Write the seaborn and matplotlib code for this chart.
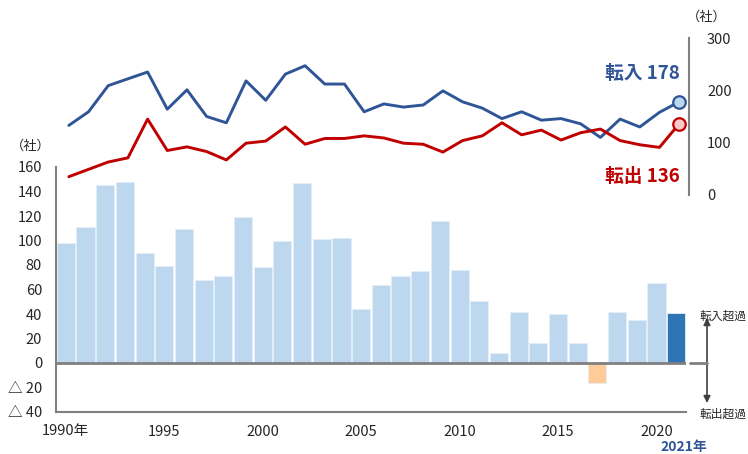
import numpy as np
import pandas as pd
import matplotlib.pyplot as plt
import seaborn as sns

# 年次データ (1990-2021)
years = list(range(1990, 2022))
tennyu = [133, 159, 209, 222, 235, 164, 201, 150, 138, 218, 181, 231, 247, 212, 212, 159,
          174, 168, 172, 199, 178, 166, 146, 159, 143, 146, 136, 110, 145, 130, 158, 178]
tenshutsu = [35, 49, 63, 71, 145, 85, 92, 83, 67, 99, 103, 130, 97, 108, 108, 113,
             109, 99, 97, 82, 104, 113, 138, 115, 124, 105, 119, 126, 104, 96, 91, 136]
chouka = [98, 111, 145, 148, 90, 79, 109, 68, 71, 119, 78, 100, 147, 101, 102, 44,
          64, 71, 75, 116, 76, 51, 8, 42, 16, 40, 16, -16, 42, 35, 65, 41]
xtick_labels = ['1990年', '1995', '2000', '2005', '2010', '2015', '2020']
left_tick_labels = ['△ 40', '△ 20', '0', '20', '40', '60', '80', '100', '120', '140', '160']

sns.set_style('white')
plt.rcParams['font.family'] = ['Noto Sans CJK JP', 'DejaVu Sans']

C_BAR = '#BDD7EE'
C_LAST = '#2E75B6'
C_NEG = '#FFCC99'
C_IN = '#2F5597'
C_OUT = '#C00000'
C_AX = '#808080'

W, H = 748, 454
fig = plt.figure(figsize=(W / 100, H / 100), dpi=100)

def box(x0, y0, x1, y1):
    return [x0 / W, 1 - y1 / H, (x1 - x0) / W, (y1 - y0) / H]

# --- 棒グラフ (転入超過) ---
ax = fig.add_axes(box(56, 167, 686, 412))
df = pd.DataFrame({'year': [str(y) for y in years], 'v': chouka})
colors = {}
for y, v in zip(df['year'], chouka):
    colors[y] = C_LAST if y == '2021' else (C_NEG if v < 0 else C_BAR)
sns.barplot(data=df, x='year', y='v', hue='year', palette=colors, legend=False,
            width=0.92, edgecolor='#E4EEF8', linewidth=0.6, ax=ax, saturation=1)
ax.set_xlim(-0.5, len(years) - 0.5)
ax.set_ylim(-40, 160)
ax.set_yticks(range(-40, 161, 20))
ax.set_yticklabels(left_tick_labels)
ax.set_xticks(range(0, 31, 5))
ax.set_xticklabels(xtick_labels)
ax.set_xlabel('')
ax.set_ylabel('')
ax.tick_params(axis='both', length=0, labelsize=10.5, colors='#262626')
ax.tick_params(axis='x', pad=9)
ax.tick_params(axis='y', pad=10)
for s in ['top', 'right']:
    ax.spines[s].set_visible(False)
for s in ['left', 'bottom']:
    ax.spines[s].set_color(C_AX)
    ax.spines[s].set_linewidth(1.5)
ax.axhline(0, color=C_AX, lw=2, zorder=3)
ax.patch.set_alpha(0)

# --- 折れ線 (転入・転出) ---
ax2 = fig.add_axes(box(59, 38, 689, 195))
pos = np.arange(len(years))
sns.lineplot(x=pos, y=tennyu, color=C_IN, lw=2.1, ax=ax2)
sns.lineplot(x=pos, y=tenshutsu, color=C_OUT, lw=2.1, ax=ax2)
ax2.plot(pos[-1], tennyu[-1], 'o', ms=9, mfc=C_BAR, mec=C_IN, mew=1.6, zorder=5)
ax2.plot(pos[-1], tenshutsu[-1], 'o', ms=9, mfc='#F8CBCB', mec=C_OUT, mew=1.6, zorder=5)
ax2.set_xlim(-0.5, len(years) - 0.5)
ax2.set_ylim(0, 300)
ax2.yaxis.tick_right()
ax2.set_yticks([0, 100, 200, 300])
ax2.set_xticks([])
ax2.tick_params(axis='y', length=0, labelsize=10.5, colors='#262626', pad=13)
for s in ['top', 'left', 'bottom']:
    ax2.spines[s].set_visible(False)
ax2.spines['right'].set_color(C_AX)
ax2.spines['right'].set_linewidth(1.5)
ax2.patch.set_alpha(0)

# --- テキスト ---
def ft(x, y, s, **kw):
    fig.text(x / W, 1 - y / H, s, **kw)

ft(31, 146, '（社）', fontsize=9.5, color='#262626', ha='center', va='center')
ft(707, 17, '（社）', fontsize=9.5, color='#262626', ha='center', va='center')
ft(680, 74, '転入 178', fontsize=13.5, fontweight='bold', color=C_IN, ha='right', va='center')
ft(680, 177, '転出 136', fontsize=13.5, fontweight='bold', color=C_OUT, ha='right', va='center')
ft(684, 447, '2021年', fontsize=10, fontweight='bold', color='#2F5597', ha='center', va='center')
ft(700, 316, '転入超過', fontsize=8.5, color='#262626', ha='left', va='center')
ft(700, 414, '転出超過', fontsize=8.5, color='#262626', ha='left', va='center')

# 0ラインの延長と矢印
fig.add_artist(plt.Line2D([690 / W, 707 / W], [1 - 363 / H, 1 - 363 / H],
                          color=C_AX, lw=2))
ax.annotate('', xy=(707 / W, 1 - 318 / H), xytext=(707 / W, 1 - 403 / H),
            xycoords='figure fraction', textcoords='figure fraction',
            arrowprops=dict(arrowstyle='<|-|>', color='#404040', lw=1.2,
                            mutation_scale=10, shrinkA=0, shrinkB=0))

fig.savefig('out.png', dpi=100)
